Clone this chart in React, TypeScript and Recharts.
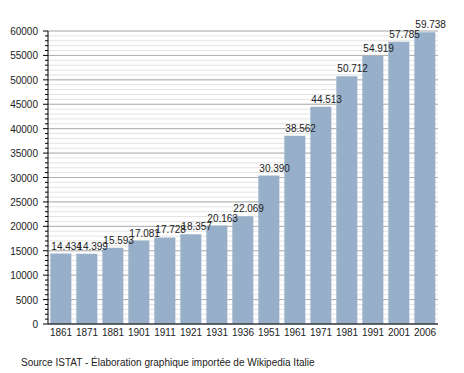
import React from "react";
import { BarChart, Bar, XAxis, YAxis, CartesianGrid, LabelList } from "recharts";

const years = ["1861", "1871", "1881", "1901", "1911", "1921", "1931", "1936", "1951", "1961", "1971", "1981", "1991", "2001", "2006"];
const population = [14434, 14399, 15593, 17081, 17728, 18357, 20163, 22069, 30390, 38562, 44513, 50712, 54919, 57785, 59738];
const majorTicks = [0, 5000, 10000, 15000, 20000, 25000, 30000, 35000, 40000, 45000, 50000, 55000, 60000];
const minorTicks = Array.from({ length: 61 }, (_, i) => i * 1000);
const footer = "Source ISTAT - Élaboration graphique importée de Wikipedia Italie";

const data = years.map((year, i) => ({ year, value: population[i] }));

const FONT = "'Liberation Sans', Arial, sans-serif";
const BAR_COLOR = "#97afc8";

function YTick(props: any) {
  const { x, y, payload } = props;
  const major = payload.value % 5000 === 0;
  return (
    <g>
      <line x1={x - (major ? 5 : 3)} x2={x} y1={y} y2={y} stroke="#000" strokeWidth={1} />
      {major && (
        <text x={x - 10} y={y} dy={4} textAnchor="end" fontSize={10} fontFamily={FONT} fill="#222">
          {payload.value}
        </text>
      )}
    </g>
  );
}

function ValueLabel(props: any) {
  const { x, y, value } = props;
  return (
    <text x={x + 1} y={y - 4} fontSize={10} fontFamily={FONT} fill="#222">
      {(value / 1000).toFixed(3)}
    </text>
  );
}

export default function App() {
  return (
    <div style={{ position: "absolute", left: 0, top: 0, width: 464, height: 373, background: "#fff" }}>
      <BarChart
        width={464}
        height={373}
        data={data}
        margin={{ top: 31, right: 26, bottom: 29, left: 0 }}
        barCategoryGap="9%"
      >
        <CartesianGrid horizontalValues={minorTicks} vertical={false} stroke="#e3e3e3" />
        <CartesianGrid horizontalValues={majorTicks} vertical={false} stroke="#b0b0b0" />
        <XAxis
          dataKey="year"
          height={20}
          tickLine={false}
          tickSize={0}
          tickMargin={5}
          axisLine={{ stroke: "#000" }}
          interval={0}
          tick={{ fontSize: 10, fontFamily: FONT, fill: "#222" }}
        />
        <YAxis
          width={48}
          domain={[0, 60000]}
          ticks={minorTicks}
          interval={0}
          tickLine={false}
          tickSize={0}
          tickMargin={0}
          axisLine={{ stroke: "#000" }}
          tick={<YTick />}
        />
        <Bar dataKey="value" fill={BAR_COLOR} isAnimationActive={false}>
          <LabelList dataKey="value" content={<ValueLabel />} />
        </Bar>
      </BarChart>
      <div
        style={{
          position: "absolute",
          left: 21,
          top: 356.5,
          fontSize: 10,
          lineHeight: "12px",
          fontFamily: FONT,
          color: "#222",
          whiteSpace: "nowrap",
        }}
      >
        {footer}
      </div>
    </div>
  );
}
